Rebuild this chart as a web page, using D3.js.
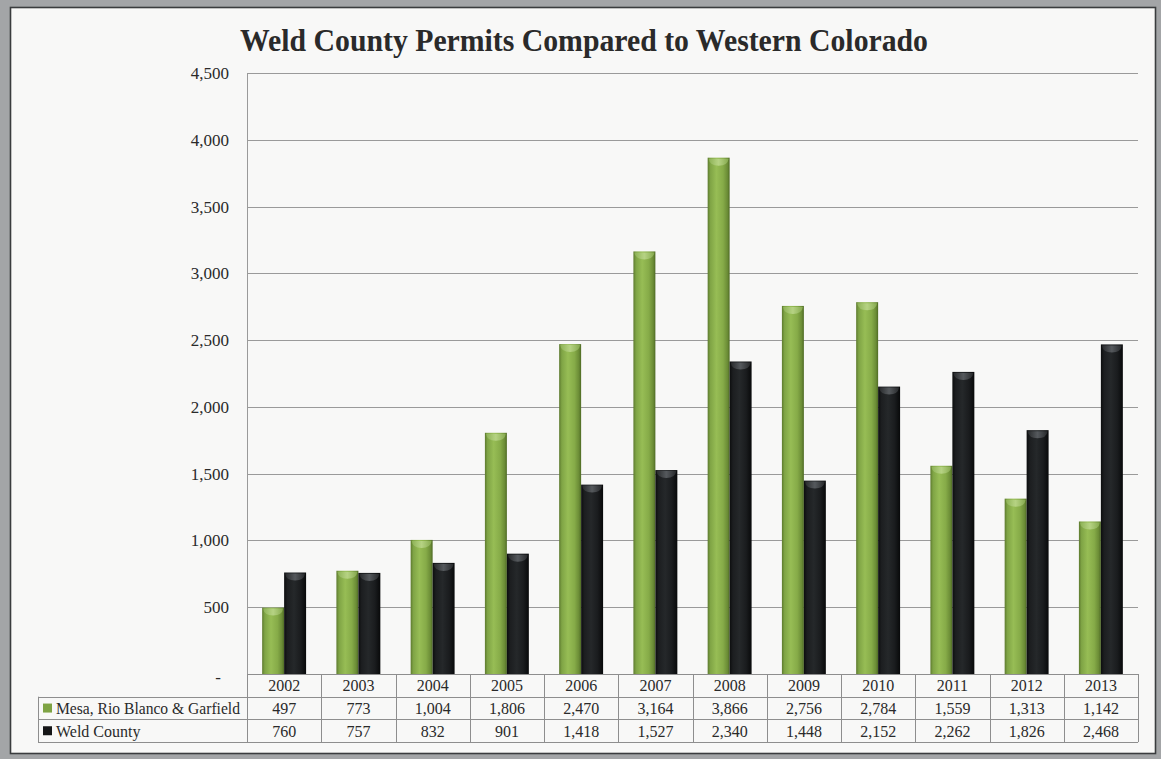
<!DOCTYPE html>
<html>
<head>
<meta charset="utf-8">
<script src="https://cdn.jsdelivr.net/npm/d3@7"></script>
<style>
  html, body { margin: 0; padding: 0; background: #9c9ea0; }
  svg { display: block; }
  text { font-family: "Liberation Serif", "DejaVu Serif", serif; fill: #2a2a2a; }
</style>
</head>
<body>
<svg id="chart" width="1161" height="759"></svg>
<script>
// Annual drilling permits, 2002–2013
const years = ["2002","2003","2004","2005","2006","2007","2008","2009","2010","2011","2012","2013"];
const seriesNames = ["Mesa, Rio Blanco & Garfield", "Weld County"];
const westernSlope = [497, 773, 1004, 1806, 2470, 3164, 3866, 2756, 2784, 1559, 1313, 1142];
const weldCounty   = [760, 757, 832, 901, 1418, 1527, 2340, 1448, 2152, 2262, 1826, 2468];
const yTicks = [0, 500, 1000, 1500, 2000, 2500, 3000, 3500, 4000, 4500];
const chartTitle = "Weld County Permits Compared to Western Colorado";

const seriesValues = [westernSlope, weldCounty];

const svg = d3.select("#chart");
const W = 1161, H = 759;

// page frame
svg.append("rect").attr("x", 0).attr("y", 0).attr("width", W).attr("height", H).attr("fill", "#a3a5a7");
svg.append("rect").attr("x", 10.5).attr("y", 7.5).attr("width", 1145).attr("height", 746)
  .attr("fill", "#f8f8f7").attr("stroke", "#3a3c3e").attr("stroke-width", 1.6);

const plot = { left: 247, right: 1138, top: 73, bottom: 674 };
const rowH = 22.7;
const tableLeft = 38;

const x = d3.scaleBand().domain(years).range([plot.left, plot.right]).padding(0);
const xs = d3.scaleBand().domain(d3.range(seriesNames.length)).range([0, x.bandwidth()])
  .paddingInner(0).paddingOuter(0.69);
const y = d3.scaleLinear().domain([0, 4500]).range([plot.bottom, plot.top]);

// gradients for the rounded bar look
const defs = svg.append("defs");
function barGradient(id, stops) {
  const g = defs.append("linearGradient").attr("id", id).attr("x1", "0").attr("x2", "1").attr("y1", "0").attr("y2", "0");
  stops.forEach(([o, c]) => g.append("stop").attr("offset", o).attr("stop-color", c));
}
barGradient("gGreen", [[0, "#5d7a2e"], [0.12, "#7fa445"], [0.4, "#97bd55"], [0.7, "#86ab48"], [0.9, "#6b8c36"], [1, "#4e6a24"]]);
barGradient("gBlack", [[0, "#0c0d0e"], [0.15, "#1c1e20"], [0.45, "#25282a"], [0.75, "#1a1c1e"], [1, "#08090a"]]);
barGradient("gGreenCap", [[0, "#8fb458"], [0.5, "#bcd78c"], [1, "#8aae52"]]);
barGradient("gBlackCap", [[0, "#2a2c2e"], [0.5, "#5e6266"], [1, "#2a2c2e"]]);
const fills = ["url(#gGreen)", "url(#gBlack)"];
const capFills = ["url(#gGreenCap)", "url(#gBlackCap)"];
const legendFills = ["#7ea343", "#151617"];

// gridlines
const yAxis = d3.axisLeft(y).tickValues(yTicks)
  .tickFormat(d => d === 0 ? "-" : d3.format(",")(d))
  .tickSize(0).tickPadding(18);
svg.append("g").attr("class", "grid")
  .selectAll("line").data(yTicks.filter(d => d > 0)).join("line")
  .attr("x1", plot.left).attr("x2", plot.right)
  .attr("y1", d => Math.round(y(d)) + 0.5).attr("y2", d => Math.round(y(d)) + 0.5)
  .attr("stroke", "#9a9a9a").attr("stroke-width", 1);

const gy = svg.append("g").attr("transform", `translate(${plot.left},0)`).call(yAxis);
gy.select(".domain").remove();
gy.selectAll("text").attr("font-size", 17).attr("fill", "#2a2a2a")
  .style("font-family", '"Liberation Serif", serif');
gy.selectAll(".tick").filter(d => d === 0).select("text").attr("dx", -8).attr("dy", "0.5em");

// vertical axis line
svg.append("line").attr("x1", plot.left + 0.5).attr("x2", plot.left + 0.5)
  .attr("y1", plot.top).attr("y2", plot.bottom).attr("stroke", "#9a9a9a");

// bars
const groups = svg.append("g").selectAll("g").data(years).join("g")
  .attr("transform", d => `translate(${x(d)},0)`);
seriesValues.forEach((vals, si) => {
  groups.each(function (yr, i) {
    const g = d3.select(this);
    const v = vals[i];
    const bx = xs(si), bw = xs.bandwidth();
    const top = y(v);
    g.append("rect").attr("x", bx).attr("y", top).attr("width", bw).attr("height", y(0) - top)
      .attr("fill", fills[si]);
    // bevelled cap at top of the bar
    const capH = 8;
    g.append("path")
      .attr("d", `M${bx + 1},${top + 1} L${bx + bw - 1},${top + 1} Q${bx + bw - 2},${top + capH} ${bx + bw / 2},${top + capH} Q${bx + 2},${top + capH} ${bx + 1},${top + 1} Z`)
      .attr("fill", capFills[si]).attr("opacity", 0.85);
  });
});

// data table
const tbl = svg.append("g").attr("class", "table");
const tableRight = plot.right;
const rowsY = [plot.bottom, plot.bottom + rowH, plot.bottom + 2 * rowH, plot.bottom + 3 * rowH];
const lineColor = "#8e8e8e";
// horizontal rules
tbl.append("line").attr("x1", plot.left).attr("x2", tableRight).attr("y1", rowsY[0] + 0.5).attr("y2", rowsY[0] + 0.5).attr("stroke", lineColor);
[1, 2, 3].forEach(r => tbl.append("line").attr("x1", tableLeft).attr("x2", tableRight)
  .attr("y1", Math.round(rowsY[r]) + 0.5).attr("y2", Math.round(rowsY[r]) + 0.5).attr("stroke", lineColor));
// vertical rules
tbl.append("line").attr("x1", tableLeft + 0.5).attr("x2", tableLeft + 0.5).attr("y1", rowsY[1]).attr("y2", rowsY[3]).attr("stroke", lineColor);
years.forEach(yr => tbl.append("line").attr("x1", Math.round(x(yr)) + 0.5).attr("x2", Math.round(x(yr)) + 0.5)
  .attr("y1", rowsY[0]).attr("y2", rowsY[3]).attr("stroke", lineColor));
tbl.append("line").attr("x1", tableRight + 0.5).attr("x2", tableRight + 0.5).attr("y1", rowsY[0]).attr("y2", rowsY[3]).attr("stroke", lineColor);

// header row: years
tbl.selectAll("text.yr").data(years).join("text").attr("class", "yr")
  .attr("x", d => x(d) + x.bandwidth() / 2).attr("y", rowsY[0] + rowH / 2 + 6)
  .attr("text-anchor", "middle").attr("font-size", 16).text(d => d);

// value rows
seriesValues.forEach((vals, si) => {
  const ry = rowsY[si + 1];
  tbl.selectAll(`text.v${si}`).data(vals).join("text").attr("class", `v${si}`)
    .attr("x", (d, i) => x(years[i]) + x.bandwidth() / 2).attr("y", ry + rowH / 2 + 6)
    .attr("text-anchor", "middle").attr("font-size", 16).text(d => d3.format(",")(d));
  tbl.append("rect").attr("x", tableLeft + 5).attr("y", ry + rowH / 2 - 4.5).attr("width", 9).attr("height", 9)
    .attr("fill", legendFills[si]);
  tbl.append("text").attr("x", tableLeft + 18).attr("y", ry + rowH / 2 + 6)
    .attr("font-size", 16).attr("textLength", si === 0 ? 184 : null).attr("lengthAdjust", "spacingAndGlyphs")
    .text(seriesNames[si]);
});

// title
svg.append("text").attr("x", 584).attr("y", 51).attr("text-anchor", "middle")
  .attr("font-size", 31).attr("font-weight", "bold").attr("fill", "#1a1a1a")
  .attr("textLength", 688).attr("lengthAdjust", "spacingAndGlyphs")
  .text(chartTitle);
</script>
</body>
</html>
